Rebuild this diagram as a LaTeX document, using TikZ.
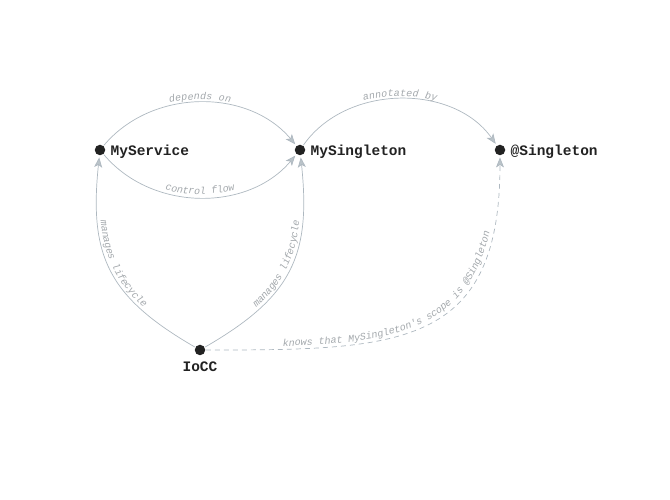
\documentclass[tikz,border=0pt]{standalone}
\usepackage{fontspec}
\setmonofont{Liberation Mono}
\usetikzlibrary{arrows.meta,decorations.text}
\definecolor{edgecol}{HTML}{AEB8C0}
\definecolor{labcol}{HTML}{A3A8AC}
\definecolor{dotcol}{HTML}{222222}
\newcommand{\edgefont}{\fontsize{10}{12}\selectfont\ttfamily\itshape}
\tikzset{
  dotnode/.style={circle,fill=dotcol,inner sep=0pt,minimum size=10.5pt},
  namelab/.style={font=\fontsize{14.5}{16}\selectfont\ttfamily\bfseries,text=dotcol,inner sep=0pt},
  edge/.style={draw=edgecol,line width=0.7pt,-{Stealth[length=10pt,width=8pt,inset=2.5pt,fill=edgecol!85]},shorten >=2pt,shorten <=0.5pt},
  etext/.style={decoration={text along path,text={|\edgefont|#1},text color=labcol,text align=center,raise=3pt},decorate}
}
\begin{document}
\begin{tikzpicture}[x=1pt,y=1pt]
\useasboundingbox (0,0) rectangle (670,500);
% nodes
\node[dotnode] (ms) at (100,350) {};
\node[dotnode] (msg) at (300,350) {};
\node[dotnode] (sg) at (500,350) {};
\node[dotnode] (io) at (200,150) {};
\node[namelab,anchor=west] (msl) at ([xshift=5pt,yshift=-1.5pt]ms.east) {MyService};
\node[namelab,anchor=west] (msgl) at ([xshift=5pt,yshift=-1.5pt]msg.east) {MySingleton};
\node[namelab,anchor=west] (sgl) at ([xshift=5pt,yshift=-1.5pt]sg.east) {@Singleton};
\node[namelab,anchor=north] (iol) at ([yshift=-6pt]io.south) {IoCC};
% edges
\draw[edge] (ms) to[out=50,in=130] (msg);
\path[etext={depends on}] (ms) to[out=50,in=130] (msg);
\draw[edge] (ms) to[out=-50,in=-130] (msg);
\path[etext={control flow}] (ms) to[out=-50,in=-130] (msg);
\draw[edge] (msg) to[out=55,in=125] (sg);
\path[etext={annotated by}] (msg) to[out=55,in=125] (sg);
\draw[edge] (io) to[out=150,in=-96,looseness=1.2] (ms);
\path[etext={manages lifecycle}] (ms) to[out=-96,in=150,looseness=1.2] (io);
\draw[edge] (io) to[out=30,in=-84,looseness=1.2] (msg);
\path[etext={manages lifecycle}] (io) to[out=30,in=-84,looseness=1.2] (msg);
\draw[edge,dashed,dash pattern=on 5pt off 4pt] (io) to[out=0,in=-90,looseness=1.4] (sg);
\path[etext={knows that MySingleton's scope is @Singleton}] (io) to[out=0,in=-90,looseness=1.4] (sg);
\end{tikzpicture}
\end{document}
